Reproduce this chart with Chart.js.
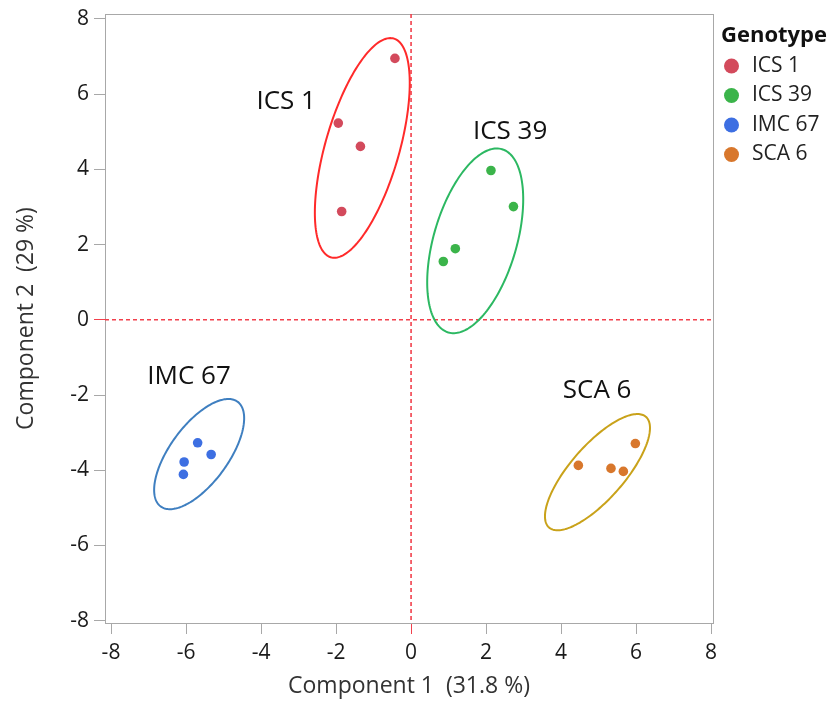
<!DOCTYPE html>
<html>
<head>
<meta charset="utf-8">
<script src="https://cdn.jsdelivr.net/npm/chart.js@4.4.1/dist/chart.umd.min.js"></script>
<style>
html,body{margin:0;padding:0;background:#fff;}
canvas{display:block;}
</style>
</head>
<body>
<canvas id="c" width="834" height="702"></canvas>
<script>
// ---- data ----
const genotypes = ["ICS 1", "ICS 39", "IMC 67", "SCA 6"];
const ics1X = [-0.43, -1.94, -1.35, -1.85];
const ics1Y = [6.95, 5.23, 4.61, 2.88];
const ics39X = [2.13, 2.73, 1.18, 0.86];
const ics39Y = [3.97, 3.01, 1.89, 1.55];
const imc67X = [-5.69, -5.33, -6.05, -6.07];
const imc67Y = [-3.27, -3.58, -3.78, -4.11];
const sca6X = [5.98, 4.46, 5.33, 5.66];
const sca6Y = [-3.29, -3.87, -3.95, -4.03];
// density ellipses: centre, half-extent in x and y, correlation
const ellCX = [-1.30, 1.71, -5.65, 4.97];
const ellCY = [4.57, 2.10, -3.57, -4.05];
const ellHX = [1.265, 1.28, 1.20, 1.40];
const ellHY = [2.92, 2.455, 1.465, 1.545];
const ellR = [0.59, 0.45, 0.65, 0.76];
// group labels drawn in the plot
const labelX = [-3.33, 2.64, -5.92, 4.96];
const labelY = [5.79, 5.01, -1.52, -1.87];
const axisTicks = [-8, -6, -4, -2, 0, 2, 4, 6, 8];

const pointColors = ["#d34a5c", "#3bb44a", "#3d6fe2", "#d8772c"];
const ellipseColors = ["#ff2a2a", "#2cb862", "#3f7fc0", "#c9a21a"];
const REF = '#f2404c';
const FONT = "'Open Sans', sans-serif";

const xs = [ics1X, ics39X, imc67X, sca6X];
const ys = [ics1Y, ics39Y, imc67Y, sca6Y];

const datasets = genotypes.map((g, i) => ({
  label: g,
  data: xs[i].map((x, k) => ({x: x, y: ys[i][k]})),
  pointRadius: 4.8,
  pointHoverRadius: 4.8,
  pointBackgroundColor: pointColors[i],
  pointBorderWidth: 0,
  borderColor: pointColors[i]
}));

const decorPlugin = {
  id: 'decor',
  beforeDatasetsDraw(chart) {
    const {ctx, chartArea: a, scales: {x, y}} = chart;
    ctx.save();
    // frame
    ctx.strokeStyle = '#a8a8a8';
    ctx.lineWidth = 1;
    ctx.strokeRect(Math.round(a.left) + 0.5, Math.round(a.top) + 0.5,
                   Math.round(a.right - a.left), Math.round(a.bottom - a.top));
    // reference lines
    ctx.strokeStyle = REF;
    ctx.lineWidth = 1.6;
    ctx.setLineDash([4, 3]);
    const x0 = x.getPixelForValue(0);
    const y0 = y.getPixelForValue(0);
    ctx.beginPath();
    ctx.moveTo(x0, a.top); ctx.lineTo(x0, a.bottom);
    ctx.stroke();
    ctx.beginPath();
    ctx.moveTo(a.left, y0); ctx.lineTo(a.right, y0);
    ctx.stroke();
    ctx.setLineDash([]);
    // ellipses
    ctx.lineWidth = 2;
    for (let i = 0; i < ellCX.length; i++) {
      ctx.strokeStyle = ellipseColors[i];
      ctx.beginPath();
      const s = Math.sqrt(1 - ellR[i] * ellR[i]);
      for (let k = 0; k <= 180; k++) {
        const t = k / 180 * Math.PI * 2;
        const vx = ellCX[i] + ellHX[i] * Math.cos(t);
        const vy = ellCY[i] + ellHY[i] * (ellR[i] * Math.cos(t) + s * Math.sin(t));
        const px = x.getPixelForValue(vx), py = y.getPixelForValue(vy);
        if (k === 0) ctx.moveTo(px, py); else ctx.lineTo(px, py);
      }
      ctx.closePath();
      ctx.stroke();
    }
    // group labels
    ctx.fillStyle = '#111';
    ctx.font = "26px " + FONT;
    ctx.textAlign = 'center';
    ctx.textBaseline = 'middle';
    for (let i = 0; i < genotypes.length; i++) {
      ctx.fillText(genotypes[i], x.getPixelForValue(labelX[i]), y.getPixelForValue(labelY[i]));
    }
    ctx.restore();
  },
  afterDraw(chart) {
    const {ctx} = chart;
    ctx.save();
    ctx.textAlign = 'left';
    ctx.textBaseline = 'middle';
    ctx.fillStyle = '#111';
    ctx.font = "bold 22px " + FONT;
    ctx.fillText('Genotype', 721, 36);
    ctx.font = "21px " + FONT;
    chart.data.datasets.forEach((d, i) => {
      const cy = 66 + i * 29.5;
      ctx.fillStyle = pointColors[i];
      ctx.beginPath();
      ctx.arc(731.5, cy, 7.5, 0, Math.PI * 2);
      ctx.fill();
      ctx.fillStyle = '#222';
      ctx.fillText(d.label, 752, cy);
    });
    ctx.restore();
  }
};

function tickColor(ctx) {
  return (ctx.tick && ctx.tick.value === 0) ? REF : '#a8a8a8';
}

new Chart(document.getElementById('c'), {
  type: 'scatter',
  data: {datasets: datasets},
  options: {
    responsive: false,
    animation: false,
    events: [],
    layout: {padding: {top: 14, right: 121, left: 0, bottom: 0}},
    plugins: {legend: {display: false}, tooltip: {enabled: false}},
    scales: {
      x: {
        type: 'linear', min: -8.16, max: 8.05,
        afterBuildTicks: s => { s.ticks = axisTicks.map(v => ({value: v})); },
        afterFit: s => { s.height = 79; s.paddingLeft = 0; s.paddingRight = 0; },
        grid: {drawOnChartArea: false, drawTicks: true, tickLength: 11, color: tickColor, lineWidth: 1},
        border: {display: true, color: '#a8a8a8'},
        ticks: {color: '#1a1a1a', font: {family: FONT, size: 21}, padding: 6, maxRotation: 0},
        title: {display: true, text: 'Component 1  (31.8 %)', color: '#333', font: {family: FONT, size: 23}, padding: {top: 0, bottom: 2}}
      },
      y: {
        type: 'linear', min: -8.06, max: 8.13,
        afterBuildTicks: s => { s.ticks = axisTicks.map(v => ({value: v})); },
        afterFit: s => { s.width = 105; s.paddingTop = 0; s.paddingBottom = 0; },
        grid: {drawOnChartArea: false, drawTicks: true, tickLength: 11, color: tickColor, lineWidth: 1},
        border: {display: true, color: '#a8a8a8'},
        ticks: {color: '#1a1a1a', font: {family: FONT, size: 21}, padding: 5},
        title: {display: true, text: 'Component 2  (29 %)', color: '#333', font: {family: FONT, size: 23}, padding: {top: 13, bottom: 0}}
      }
    }
  },
  plugins: [decorPlugin]
});
</script>
</body>
</html>
